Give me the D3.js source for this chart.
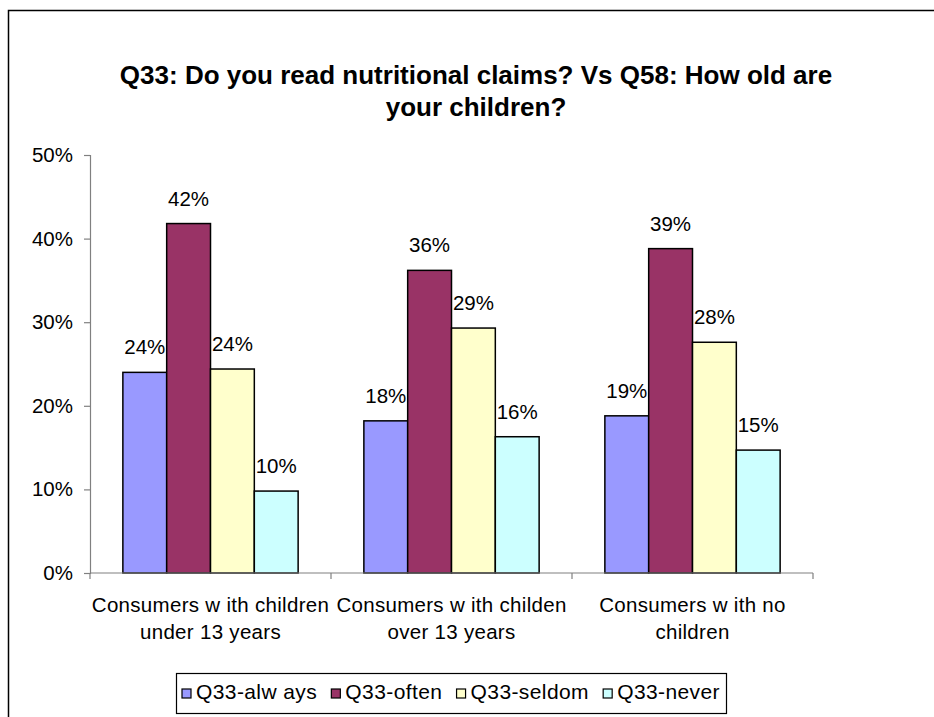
<!DOCTYPE html>
<html>
<head>
<meta charset="utf-8">
<script src="https://cdn.jsdelivr.net/npm/d3@7/dist/d3.min.js"></script>
<style>
  html, body { margin: 0; padding: 0; background: #fff; }
  svg { display: block; font-family: "Liberation Sans", Arial, sans-serif; }
</style>
</head>
<body>
<svg id="chart" width="934" height="717"></svg>
<script>
// Chart data
const titleLines = ["Q33: Do you read nutritional claims? Vs Q58: How old are", "your children?"];
const categories = ["under13", "over13", "none"];
const categoryLabels = [
  ["Consumers w ith children", "under 13 years"],
  ["Consumers w ith childen", "over 13 years"],
  ["Consumers w ith no", "children"]
];
const seriesNames = ["Q33-alw ays", "Q33-often", "Q33-seldom", "Q33-never"];
const seriesColors = ["#9999FF", "#993366", "#FFFFCC", "#CCFFFF"];
const alwaysValues = [24.0, 18.2, 18.8];
const oftenValues = [41.8, 36.2, 38.8];
const seldomValues = [24.4, 29.3, 27.6];
const neverValues = [9.8, 16.3, 14.7];
const seriesValues = [alwaysValues, oftenValues, seldomValues, neverValues];
const yTicks = [0, 10, 20, 30, 40, 50];

const labelSize = 20.5;
const svg = d3.select("#chart");

// Chart area frame
svg.append("rect")
  .attr("x", 8.5).attr("y", 10.5)
  .attr("width", 1000).attr("height", 1000)
  .attr("fill", "#fff").attr("stroke", "#000").attr("stroke-width", 1.5);

// Title
svg.append("text")
  .attr("text-anchor", "middle")
  .attr("font-size", 26).attr("font-weight", "bold")
  .selectAll("tspan").data(titleLines).join("tspan")
  .attr("x", 476).attr("y", (d, i) => 84 + i * 32)
  .text(d => d);

const plot = { left: 90, right: 813, top: 155, bottom: 573 };

const y = d3.scaleLinear().domain([0, 50]).range([plot.bottom, plot.top]);
const x0 = d3.scaleBand().domain(categories).range([plot.left, plot.right]).padding(0);
const x1 = d3.scaleBand().domain(d3.range(seriesNames.length))
  .range([0, x0.bandwidth()]).paddingInner(0).paddingOuter(0.75);

// Y axis
const yAxis = d3.axisLeft(y).tickValues(yTicks).tickSize(6).tickPadding(11)
  .tickFormat(d => d + "%");
const gy = svg.append("g").attr("transform", `translate(${plot.left},0)`).call(yAxis);
gy.select(".domain").attr("stroke", "#808080").attr("stroke-width", 1.2);
gy.selectAll(".tick line").attr("stroke", "#808080").attr("stroke-width", 1.2);
gy.selectAll(".tick text").attr("font-size", labelSize).attr("fill", "#000")
  .attr("font-family", "Liberation Sans, Arial, sans-serif");

// Bars
const groups = svg.append("g").selectAll("g").data(categories).join("g")
  .attr("transform", d => `translate(${x0(d)},0)`);

groups.each(function (cat, ci) {
  const g = d3.select(this);
  seriesNames.forEach((s, si) => {
    const v = seriesValues[si][ci];
    g.append("rect")
      .attr("x", x1(si)).attr("y", y(v))
      .attr("width", x1.bandwidth()).attr("height", y(0) - y(v))
      .attr("fill", seriesColors[si]).attr("stroke", "#000").attr("stroke-width", 1.5);
  });
  seriesNames.forEach((s, si) => {
    const v = seriesValues[si][ci];
    g.append("text")
      .attr("x", x1(si) + x1.bandwidth() / 2).attr("y", y(v) - 18)
      .attr("text-anchor", "middle").attr("font-size", labelSize)
      .text(Math.round(v) + "%");
  });
});

// X axis
const xAxisLine = svg.append("g");
xAxisLine.append("line")
  .attr("x1", plot.left).attr("x2", plot.right)
  .attr("y1", plot.bottom).attr("y2", plot.bottom)
  .attr("stroke", "#808080").attr("stroke-width", 1.2);
const boundaries = categories.map(c => x0(c)).concat([x0(categories[categories.length - 1]) + x0.bandwidth()]);
xAxisLine.selectAll("line.tick").data(boundaries).join("line")
  .attr("class", "tick")
  .attr("x1", d => d).attr("x2", d => d)
  .attr("y1", plot.bottom).attr("y2", plot.bottom + 6)
  .attr("stroke", "#808080").attr("stroke-width", 1.2);

// Category labels
svg.append("g").selectAll("text").data(categories).join("text")
  .attr("text-anchor", "middle").attr("font-size", labelSize)
  .attr("letter-spacing", 0.3)
  .each(function (d, i) {
    d3.select(this).selectAll("tspan").data(categoryLabels[i]).join("tspan")
      .attr("x", x0(d) + x0.bandwidth() / 2)
      .attr("y", (t, j) => 612 + j * 27)
      .text(t => t);
  });

// Legend
const legendBox = { x: 176, y: 673, w: 550, h: 40 };
const legend = svg.append("g");
legend.append("rect")
  .attr("x", legendBox.x + 0.5).attr("y", legendBox.y + 0.5)
  .attr("width", legendBox.w).attr("height", legendBox.h)
  .attr("fill", "#fff").attr("stroke", "#000").attr("stroke-width", 1.2);

const items = legend.selectAll("g.item").data(seriesNames).join("g").attr("class", "item");
items.append("rect")
  .attr("y", 1)
  .attr("width", 9).attr("height", 9)
  .attr("fill", (d, i) => seriesColors[i]).attr("stroke", "#000").attr("stroke-width", 1.2);
items.append("text")
  .attr("x", 14).attr("y", 11)
  .attr("font-size", 21).attr("letter-spacing", 0.4)
  .text(d => d);

// Spread the legend entries across the inner width of the box
const inset = 6;
const widths = [];
items.each(function () { widths.push(14 + d3.select(this).select("text").node().getComputedTextLength()); });
const inner = legendBox.w - 2 * inset;
const gap = (inner - d3.sum(widths)) / (widths.length - 1);
let cx = legendBox.x + inset;
items.each(function (d, i) {
  d3.select(this).attr("transform", `translate(${cx},${legendBox.y + 15})`);
  cx += widths[i] + gap;
});
</script>
</body>
</html>
